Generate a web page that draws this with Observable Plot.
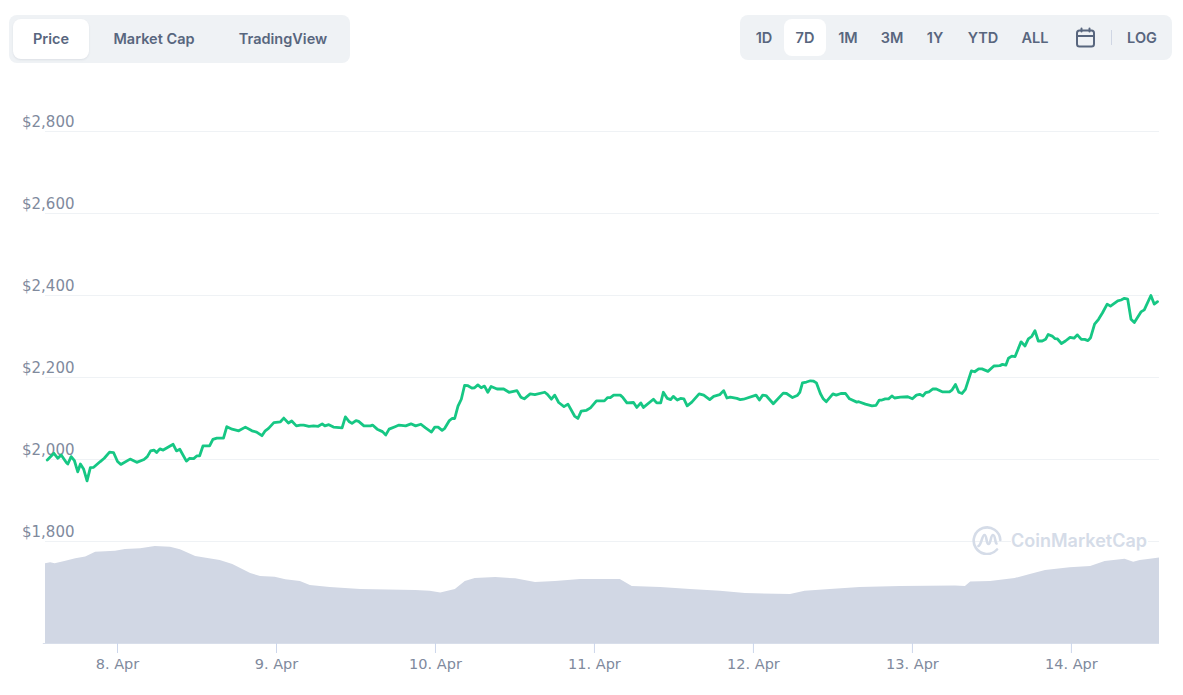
<!DOCTYPE html>
<html>
<head>
<meta charset="utf-8">
<title>Price chart</title>
<script src="https://cdn.jsdelivr.net/npm/d3@7"></script>
<script src="https://cdn.jsdelivr.net/npm/@observablehq/plot@0.6"></script>
<style>
html,body{margin:0;padding:0;background:#fff;overflow:hidden;width:1183px;height:695px}
#head{position:relative;height:70px;width:1183px;font-family:Inter,sans-serif;font-weight:600;font-size:14.5px;color:#58667e}
.grp{position:absolute;background:#eff2f5;border-radius:8px}
.pill{position:absolute;background:#fff;border-radius:8px;box-shadow:0 1px 2px rgba(88,102,126,.12)}
.lab{position:absolute;transform:translate(-50%,-50%);white-space:nowrap;line-height:1}
#chart{position:relative;width:1183px;height:625px}
#chart > svg{position:absolute;left:0;top:0;background:transparent}
#mark{position:absolute;left:972px;top:455px;height:30px;display:flex;align-items:center;color:#d5dce8;font-family:Inter,sans-serif;font-weight:600;font-size:18px}
#mark span{margin-left:9px;margin-top:2px;background:#fff;line-height:22px;padding-right:1px}
#mark svg{background:transparent}
</style>
</head>
<body>
<div id="head">
  <div class="grp" style="left:9px;top:15px;width:341px;height:48px"></div>
  <div class="pill" style="left:13px;top:19px;width:76px;height:40px"></div>
  <div class="grp" style="left:740px;top:15px;width:432px;height:45px"></div>
  <div class="pill" style="left:784px;top:19px;width:42px;height:37px;box-shadow:none"></div>
  <div style="position:absolute;left:1111px;top:30px;width:1px;height:15px;background:#cfd6e4"></div>
  <svg style="position:absolute;left:1075px;top:27px" width="21" height="21" viewBox="0 0 21 21" fill="none" stroke="#58667e" stroke-width="2" stroke-linecap="round">
    <rect x="2" y="3.5" width="17" height="16" rx="2.5"/><path d="M2 9h17M6.5 1.5v3M14.5 1.5v3"/>
  </svg>
</div>
<div id="chart">
  <div id="mark">
    <svg width="30" height="30" viewBox="0 0 30 30" fill="none" stroke="#d5dce8" stroke-width="2.6" stroke-linecap="round" stroke-linejoin="round">
      <path d="M25 24.5A13.3 13.3 0 1 1 28.3 15"/>
      <path d="M6.5 21c3-1 3.5-11 6-11s1.500 9 4 9 2-9 4.500-9 2 8 3.500 8.500"/>
    </svg>
    <span>CoinMarketCap</span>
  </div>
</div>
<script>
// Hours since 8 Apr 00:00, and the price in dollars read at each of them
const priceHours = [-10.6,-9.6,-9,-8.5,-7.7,-7.5,-7,-6.5,-6,-5.6,-5.1,-4.6,-4.1,-3.6,-2.6,-2,-1.2,-0.6,0,0.5,1.9,2.9,4,4.5,5,5.5,5.9,6.4,6.9,8.4,8.9,9.4,10.4,10.9,11.5,12,12.4,12.9,13.9,14.4,15,16,16.5,17.3,18.3,19.3,20.3,21,21.8,22.3,22.8,23.6,24.6,25.1,25.8,26.3,27,27.6,28.1,28.9,29.6,30.3,30.9,31.3,31.9,32.6,33.9,34.4,35,35.4,36,36.4,37.2,38.2,38.5,39.2,40,40.5,41,41.9,42.5,43.5,44.3,45,45.8,46.5,47.4,47.9,48.4,49,49.4,50.1,50.5,50.9,51.4,51.9,52.4,52.9,53.5,53.9,54.4,54.9,55.4,55.9,56.4,57.3,58.3,59.1,60.3,60.9,61.4,62.3,63,64.5,64.9,65.5,66,66.6,67.4,68,69,69.5,70,70.8,71.4,72.3,73.5,74,74.4,74.9,75.9,76.3,76.9,77.9,78.4,79,79.4,80.9,81.4,82,82.4,83,83.5,83.9,84.5,85,85.5,86,86.7,87.8,88.5,89.4,90,90.9,91.5,92,92.5,93.5,94,94.5,96.4,96.9,97.4,97.9,99,100.5,101,101.9,102.6,103,103.4,104,104.6,105.1,105.5,106.1,106.5,107,108,108.5,109.2,109.9,110.5,111.6,111.9,112.9,113.9,114.5,115,115.4,115.9,116.4,116.9,117.3,118.2,119.3,120,120.6,121.1,121.6,122,122.5,123.1,123.6,124.5,125.6,126,126.5,127,127.5,128,128.9,129.4,130,130.5,131.4,132.3,133.2,133.6,134.1,134.5,135,135.5,136.4,137,137.5,138,138.5,139,139.6,140.1,140.5,141.1,141.5,141.9,142.5,143.1,143.8,144.4,144.9,145.5,146,146.5,146.9,147.5,148.1,148.7,149.4,149.9,151,151.5,152,152.5,153,153.5,154.5,155,156,156.5,157];
const priceValues = [1999,2015,2003,2011,1992,1989,2007,1997,1970,1989,1976,1948,1980,1981,1995,2003,2018,2017,1995,1988,2001,1993,2000,2007,2021,2023,2017,2026,2023,2037,2021,2025,1996,2003,2002,2009,2009,2033,2033,2049,2052,2052,2080,2074,2070,2079,2070,2067,2058,2070,2076,2090,2092,2101,2089,2094,2082,2084,2084,2081,2082,2081,2087,2082,2085,2079,2077,2104,2092,2088,2095,2093,2082,2082,2084,2074,2068,2060,2074,2080,2084,2082,2087,2082,2086,2077,2067,2079,2079,2071,2076,2095,2100,2100,2130,2147,2181,2180,2174,2175,2182,2175,2179,2164,2178,2172,2172,2164,2168,2152,2148,2160,2158,2164,2159,2147,2157,2139,2129,2135,2106,2100,2118,2120,2126,2143,2143,2151,2151,2157,2157,2151,2138,2139,2127,2138,2127,2147,2138,2138,2164,2149,2146,2154,2145,2149,2148,2131,2140,2160,2157,2146,2154,2158,2168,2150,2152,2149,2146,2147,2157,2145,2157,2156,2136,2162,2161,2151,2156,2164,2187,2189,2192,2191,2187,2161,2149,2141,2160,2157,2161,2161,2148,2140,2141,2135,2131,2132,2145,2145,2148,2148,2155,2150,2152,2153,2148,2157,2159,2155,2163,2165,2172,2172,2165,2165,2170,2183,2164,2161,2171,2216,2214,2221,2221,2215,2228,2229,2232,2230,2247,2252,2251,2287,2277,2294,2300,2314,2289,2289,2293,2305,2301,2295,2294,2283,2289,2298,2296,2304,2293,2293,2290,2297,2330,2342,2358,2379,2374,2387,2389,2393,2391,2342,2334,2360,2365,2400,2379,2385];

// Traded volume (no scale is shown in the reference, so units are nominal)
const volumeHours = [-10.87,-10.1,-9.4,-7.8,-6.3,-4.8,-3.3,-0.3,1.2,3.5,5.7,8,9.5,11.8,15.5,17.4,20.1,21.6,23.8,25.4,27.6,29.1,32.1,36.7,45,47.2,48.8,51,52.5,54,57.1,60.1,63.1,66.1,69.9,75.9,77.7,82,86.5,91,94.8,101.6,103.8,107.6,112.1,118.2,126.5,128,128.8,131.8,135.5,137.8,140.1,143.8,146.9,149.1,152.1,153.4,154.4,155.9,157.3];
const volumeValues = [24.9,25.2,24.9,25.7,26.5,27,28.5,28.8,29.4,29.6,30.3,30.1,29.3,27.2,25.9,24.7,21.9,20.9,20.7,19.9,19.4,18.1,17.5,16.9,16.6,16.3,15.8,16.9,19.4,20.3,20.6,20.2,19.1,19.4,20,20,17.8,17.5,16.9,16.3,15.6,15.3,16.3,16.9,17.5,17.8,18,17.8,19.2,19.4,20.3,21.6,22.8,23.7,24.1,25.6,26.3,25.4,25.9,26.3,26.7];

const dayHours = [0,24,48,72,96,120,144];
const dayLabels = ["8. Apr","9. Apr","10. Apr","11. Apr","12. Apr","13. Apr","14. Apr"];
const priceTicks = [1800,2000,2200,2400,2600,2800];

const priceData = priceHours.map((h,i)=>({h,v:priceValues[i]}));
const volumeData = volumeHours.map((h,i)=>({h,v:volumeValues[i]}));

const W = 1183, H = 625;
const xDomain = [-10.87,157.3];
const common = {width:W,height:H,marginLeft:45,marginRight:24,marginTop:0,marginBottom:52};
const textStyle = {fontFamily:"'DejaVu Sans',sans-serif",fontSize:"14.5px",color:"#808a9d",background:"transparent"};

const volumePlot = Plot.plot({
  ...common,
  style:textStyle,
  x:{domain:xDomain,axis:null},
  y:{domain:[0,40],range:[573,445],axis:null},
  marks:[
    Plot.areaY(volumeData,{x:"h",y:"v",fill:"#d1d7e4",curve:"linear"}),
    Plot.ruleY([0],{x1:-11.2,x2:157.3,stroke:"#d8deea",strokeWidth:1,clip:false})
  ]
});

const pricePlot = Plot.plot({
  ...common,
  style:textStyle,
  x:{domain:xDomain,axis:null},
  y:{domain:[1800,2800],range:[471,61],axis:null},
  marks:[
    Plot.gridY(priceTicks,{stroke:"#eff2f5",strokeOpacity:1,strokeWidth:1}),
    Plot.axisY(priceTicks,{anchor:"left",tickSize:0,tickPadding:23.5,textAnchor:"start",dy:-9,fontSize:15,
      tickFormat:d=>"$"+d3.format(",")(d),fill:"#808a9d",label:null}),
    Plot.axisX(dayHours,{anchor:"bottom",tickSize:10,tickPadding:5,stroke:"#ccd6eb",fill:"#808a9d",
      tickFormat:d=>dayLabels[dayHours.indexOf(d)],label:null}),
    Plot.line(priceData,{x:"h",y:"v",stroke:"#16c784",strokeWidth:2.8,curve:"linear",strokeLinejoin:"round"})
  ]
});

const chart = document.getElementById("chart");
const mark = document.getElementById("mark");
chart.insertBefore(pricePlot,mark);
chart.insertBefore(volumePlot,pricePlot);

// Control labels
const head = document.getElementById("head");
const tabs = [["Price",51],["Market Cap",154],["TradingView",283]];
const ranges = [["1D",764],["7D",805],["1M",848],["3M",892],["1Y",935],["YTD",983],["ALL",1035],["LOG",1142]];
for (const [t,x] of tabs) addLabel(t,x,39);
for (const [t,x] of ranges) addLabel(t,x,38);
function addLabel(t,x,y){
  const e=document.createElement("div");
  e.className="lab"; e.textContent=t; e.style.left=x+"px"; e.style.top=y+"px";
  head.appendChild(e);
}
</script>
</body>
</html>
